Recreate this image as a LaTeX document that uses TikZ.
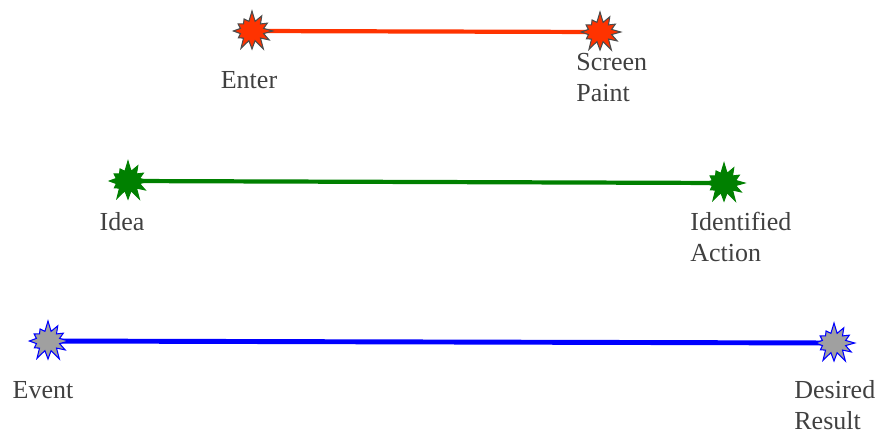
\documentclass[tikz,border=0pt]{standalone}
\usepackage{fontspec}
\setmainfont{Liberation Serif}
\usetikzlibrary{shapes.symbols, positioning}
\definecolor{burstred}{HTML}{FF3300}
\definecolor{burstgreen}{HTML}{008000}
\definecolor{burstblue}{HTML}{0000FF}
\definecolor{burstgray}{HTML}{A0A0A0}
\definecolor{labelgray}{HTML}{404040}

\begin{document}
\begin{tikzpicture}[
    burst/.style={starburst, starburst points=12, starburst point height=0.22cm,
                  random starburst=7, inner sep=0pt, minimum width=0.92cm,
                  minimum height=0.84cm, line width=0.6pt},
    lbl/.style={font=\fontsize{14.8}{17.8}\selectfont, text=labelgray, inner sep=0pt, align=left},
    link/.style={line width=2.4pt},
]
\useasboundingbox (0, 0) rectangle (17.62, 8.68);

% ---- Enter -> Screen Paint ----
\draw[link, burstred] (5.04, 8.06) coordinate (enterpt) -- (12.00, 8.04) coordinate (paintpt);
\node[burst, fill=burstred, draw=black!70] (enter) at (enterpt) {};
\node[burst, fill=burstred, draw=black!70] (paint) at (paintpt) {};
\node[lbl] (enterlbl) at (4.98, 7.08) {Enter};
\node[lbl, anchor=north west] (paintlbl) at (11.52, 7.62) {Screen\\Paint};

% ---- Idea -> Identified Action ----
\draw[link, burstgreen] (2.56, 5.06) coordinate (ideapt) -- (14.48, 5.02) coordinate (actionpt);
\node[burst, fill=burstgreen, draw=burstgreen] (idea) at (ideapt) {};
\node[burst, fill=burstgreen, draw=burstgreen] (action) at (actionpt) {};
\node[lbl] (idealbl) at (2.44, 4.24) {Idea};
\node[lbl, anchor=north west] (actionlbl) at (13.80, 4.44) {Identified\\Action};

% ---- Event -> Desired Result ----
\draw[link, burstblue, line width=2.8pt] (0.96, 1.86) coordinate (eventpt) -- (16.68, 1.82) coordinate (resultpt);
\node[burst, fill=burstgray, draw=burstblue] (event) at (eventpt) {};
\node[burst, fill=burstgray, draw=burstblue] (result) at (resultpt) {};
\node[lbl] (eventlbl) at (0.86, 0.88) {Event};
\node[lbl, anchor=north west] (resultlbl) at (15.88, 1.08) {Desired\\Result};

\end{tikzpicture}
\end{document}
